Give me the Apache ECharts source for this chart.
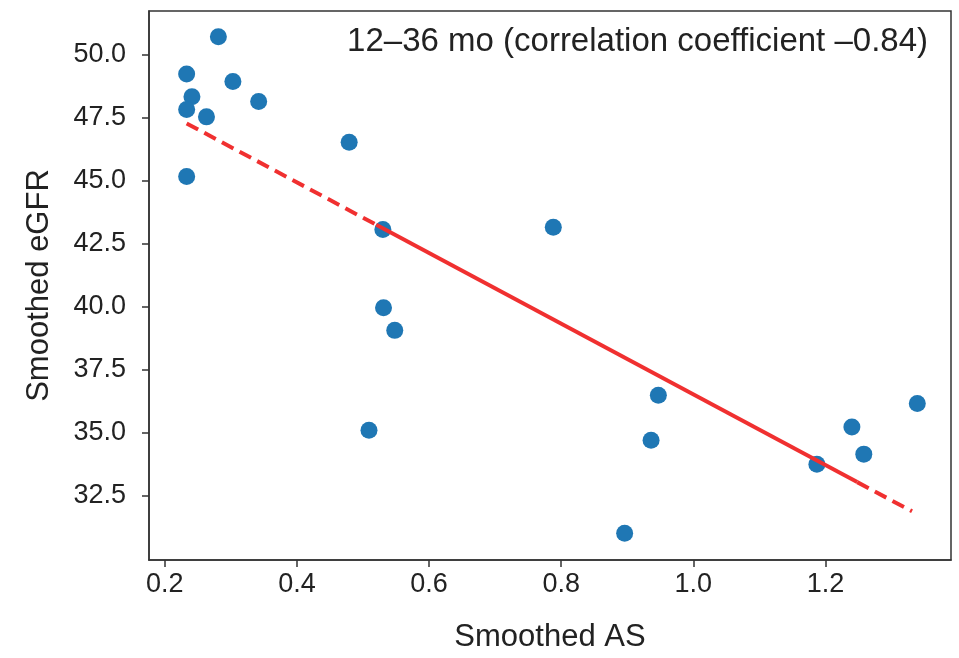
<!DOCTYPE html>
<html>
<head>
<meta charset="utf-8">
<script src="https://cdn.jsdelivr.net/npm/echarts@6/dist/echarts.min.js"></script>
<style>
  html, body { margin: 0; padding: 0; background: #fff; }
  #main { width: 959px; height: 658px; }
</style>
</head>
<body>
<div id="main"></div>
<script>
// scatter points
var asValues   = [0.281, 0.233, 0.241, 0.233, 0.263, 0.303, 0.342, 0.233, 0.479, 0.530, 0.788, 0.531, 0.548, 0.509, 0.947, 0.936, 0.896, 1.187, 1.240, 1.258, 1.339];
var egfrValues = [50.70, 49.22, 48.32, 47.81, 47.52, 48.92, 48.13, 45.15, 46.51, 43.05, 43.14, 39.95, 39.05, 35.09, 36.48, 34.69, 31.00, 33.74, 35.22, 34.14, 36.15];

// regression line: start, dash->solid, solid->dash, end
var fitX = [0.233, 0.52, 1.248, 1.331];
var fitY = [47.26, 43.24, 33.03, 31.87];

var xTicks = [0.2, 0.4, 0.6, 0.8, 1.0, 1.2];
var yTicks = [32.5, 35.0, 37.5, 40.0, 42.5, 45.0, 47.5, 50.0];

var titleText = '12\u201336 mo (correlation coefficient \u20130.84)';

var font = 'Liberation Sans, Arial, sans-serif';
var axisColor = '#333';

var points = asValues.map(function (x, i) { return [x, egfrValues[i]]; });
function seg(a, b) { return [[fitX[a], fitY[a]], [fitX[b], fitY[b]]]; }

var lineStyleBase = { color: '#f03030', width: 4 };

var myChart = echarts.init(document.getElementById('main'));
var option = {
    animation: false,
    backgroundColor: '#fff',
    title: {
        text: titleText,
        right: 26,
        top: 20,
        textStyle: { fontFamily: font, fontSize: 33, fontWeight: 'normal', color: '#222' }
    },
    grid: {
        left: 149, right: 8, top: 11, bottom: 98,
        show: true, borderColor: axisColor, borderWidth: 1.5, backgroundColor: '#fff'
    },
    xAxis: {
        type: 'value',
        min: 0.176, max: 1.39,
        name: 'Smoothed AS',
        nameLocation: 'middle',
        nameGap: 62,
        nameTextStyle: { fontFamily: font, fontSize: 31, color: '#222' },
        splitLine: { show: false },
        axisLine: { show: true, onZero: false, lineStyle: { color: axisColor, width: 1.5 } },
        axisTick: { show: true, inside: false, length: 7, customValues: xTicks, lineStyle: { color: axisColor, width: 1.5 } },
        axisLabel: {
            customValues: xTicks, margin: 11,
            fontFamily: font, fontSize: 27, color: '#222',
            formatter: function (v) { return v.toFixed(1); }
        }
    },
    yAxis: {
        type: 'value',
        min: 29.94, max: 51.72,
        name: 'Smoothed eGFR',
        nameLocation: 'middle',
        nameRotate: 90,
        nameGap: 94,
        nameTextStyle: { fontFamily: font, fontSize: 31, color: '#222' },
        splitLine: { show: false },
        axisLine: { show: true, onZero: false, lineStyle: { color: axisColor, width: 1.5 } },
        axisTick: { show: true, inside: false, length: 7, customValues: yTicks, lineStyle: { color: axisColor, width: 1.5 } },
        axisLabel: {
            customValues: yTicks, margin: 23,
            fontFamily: font, fontSize: 27, color: '#222',
            formatter: function (v) { return v.toFixed(1); }
        }
    },
    series: [
        {
            type: 'scatter',
            data: points,
            symbolSize: 17,
            itemStyle: { color: '#1f77b4', opacity: 1 },
            z: 2
        },
        {
            type: 'line', data: seg(0, 1), symbol: 'none', z: 3,
            lineStyle: Object.assign({ type: [13, 7] }, lineStyleBase)
        },
        {
            type: 'line', data: seg(1, 2), symbol: 'none', z: 3,
            lineStyle: Object.assign({ type: 'solid' }, lineStyleBase)
        },
        {
            type: 'line', data: seg(2, 3), symbol: 'none', z: 3,
            lineStyle: Object.assign({ type: [13, 7] }, lineStyleBase)
        }
    ]
};
myChart.setOption(option);
</script>
</body>
</html>
